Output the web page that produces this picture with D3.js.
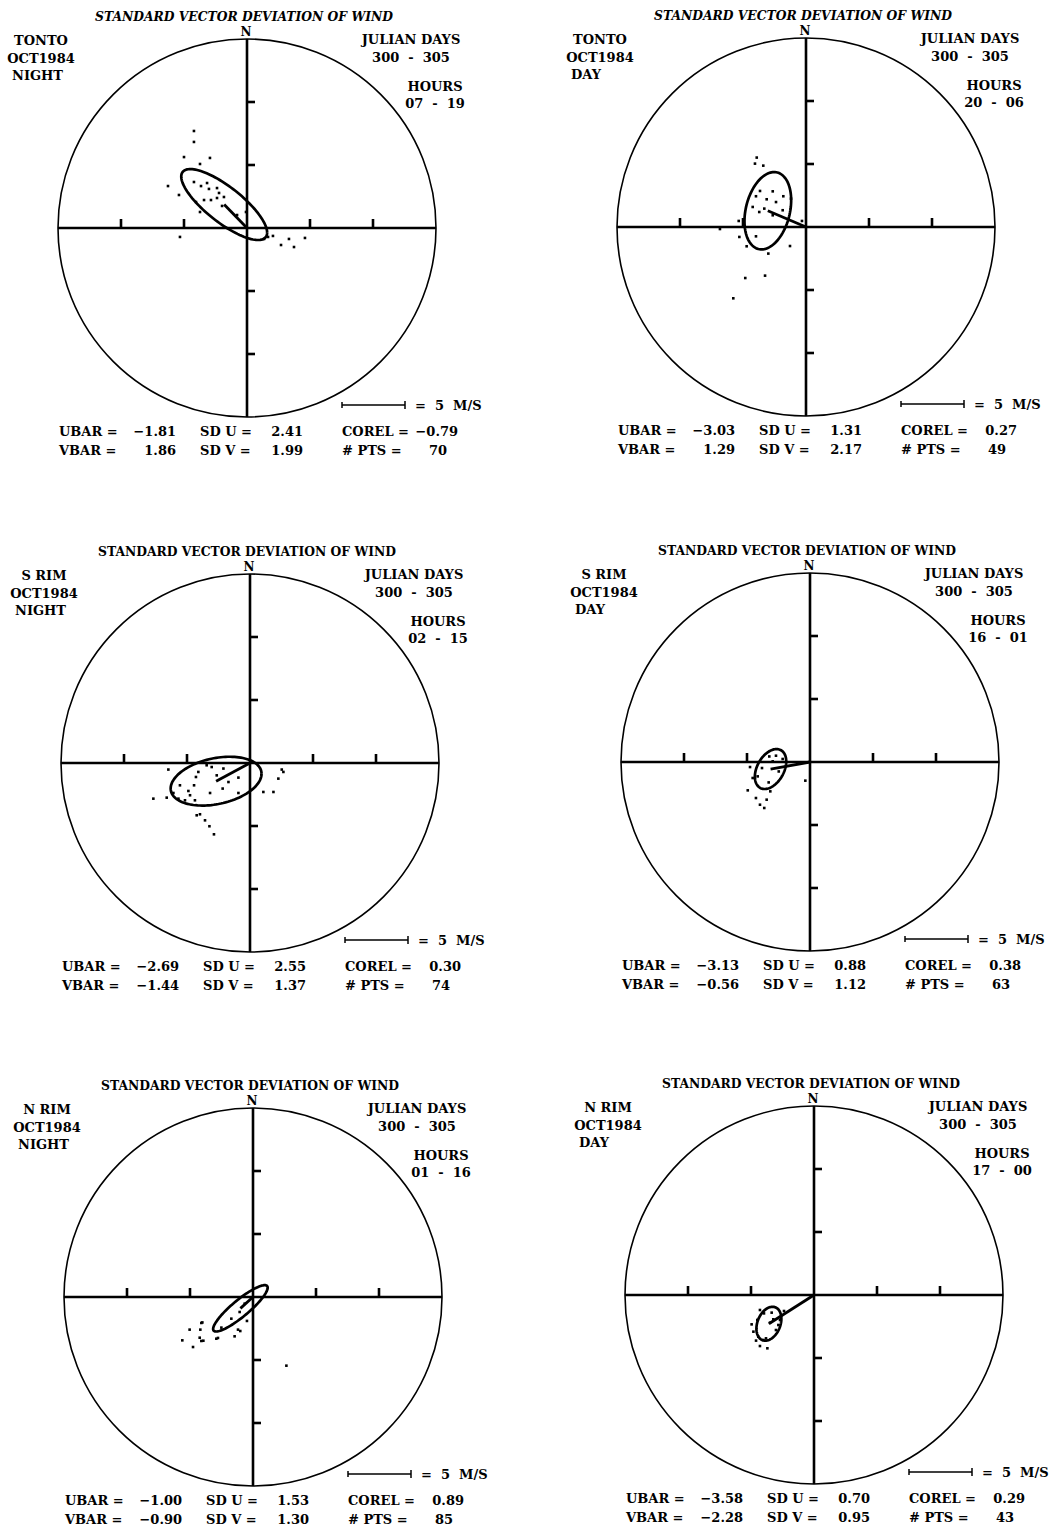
<html>
<head>
  <meta charset="utf-8">
  <style>
    body {
      margin: 0;
      background: white;
    }

    svg text {
      font-family: "DejaVu Serif", "Liberation Serif", serif;
      font-weight: bold;
      font-size: 13px;
      fill: black;
      white-space: pre;
    }

    .ring {
      fill: none;
      stroke: black;
      stroke-width: 1.6;
    }

    .axis-line,
    .tick {
      stroke: black;
      stroke-width: 2.6;
    }

    .sd-ellipse {
      fill: none;
      stroke: black;
      stroke-width: 2.7;
    }

    .mean-line {
      stroke: black;
      stroke-width: 2.8;
    }

    .obs {
      fill: black;
    }

    .scale-bar {
      stroke: black;
      stroke-width: 1.5;
    }
  </style>
</head>

<body>
  <script src="https://cdn.jsdelivr.net/npm/d3@7"></script>
  <script>
    var width = 1061;
    var height = 1528;

    // panel labels
    const stations = ["TONTO", "TONTO", "S RIM", "S RIM", "N RIM", "N RIM"];
    const months = ["OCT1984", "OCT1984", "OCT1984", "OCT1984", "OCT1984", "OCT1984"];
    const periods = ["NIGHT", "DAY", "NIGHT", "DAY", "NIGHT", "DAY"];
    const julianDays = ["300  -  305", "300  -  305", "300  -  305", "300  -  305", "300  -  305", "300  -  305"];
    const hours = ["07  -  19", "20  -  06", "02  -  15", "16  -  01", "01  -  16", "17  -  00"];

    // statistics printed under each plot (m/s)
    const ubar = [-1.81, -3.03, -2.69, -3.13, -1.00, -3.58];
    const vbar = [1.86, 1.29, -1.44, -0.56, -0.90, -2.28];
    const sdU = [2.41, 1.31, 2.55, 0.88, 1.53, 0.70];
    const sdV = [1.99, 2.17, 1.37, 1.12, 1.30, 0.95];
    const corel = [-0.79, 0.27, 0.30, 0.38, 0.89, 0.29];
    const nPts = [70, 49, 74, 63, 85, 43];

    // axis ticks (m/s) and scale bar length
    const tickValues = [-10, -5, 5, 10];
    const axisMax = 15;
    const scaleBarSpeed = 5;

    const obsTontoNight = [
      [-4.21, 7.70], [-4.21, 6.83], [-5.00, 5.63], [-2.94, 5.56], [-3.73, 5.08],
      [-6.27, 3.33], [-5.40, 2.62], [-4.21, 3.65], [-3.65, 3.33], [-3.17, 3.57],
      [-3.02, 3.10], [-2.38, 3.17], [-2.22, 2.78], [-2.38, 2.38], [-1.83, 2.46],
      [-2.86, 2.22], [-3.41, 2.22], [-4.05, 2.06], [-1.98, 1.75], [-3.73, 1.27],
      [-5.32, -0.71], [1.67, -0.71], [2.06, -0.63], [2.70, -1.35], [3.33, -0.87],
      [3.73, -1.51], [4.60, -0.79], [-0.08, 1.27], [-0.79, 1.03], [1.35, -0.87]
    ];
    const obsTontoDay = [
      [-3.91, 5.51], [-4.05, 5.03], [-3.39, 4.87], [-3.65, 2.86], [-3.97, 2.44],
      [-2.64, 2.83], [-1.80, 2.44], [-3.12, 2.20], [-2.38, 1.98], [-1.85, 1.33],
      [-4.23, 1.59], [-3.71, 1.19], [-3.31, 1.46], [-2.64, 0.93], [-1.19, 2.25],
      [-5.34, 0.48], [-6.83, -0.16], [-5.29, -0.79], [-3.97, -0.74], [-4.71, -1.53],
      [-2.99, -2.11], [-1.27, -1.51], [-0.32, 0.48], [-4.82, -4.05], [-3.25, -3.86],
      [-5.77, -5.66]
    ];
    const obsSRimNight = [
      [-6.48, -0.52], [-4.10, -0.71], [-3.44, -0.18], [-3.04, -0.32], [-2.11, -0.44],
      [-2.64, -0.98], [-4.29, -1.11], [-5.56, -1.77], [-4.44, -1.77], [-4.89, -2.22],
      [-4.76, -2.56], [-6.08, -2.38], [-5.68, -2.83], [-5.16, -2.96], [-4.37, -2.96],
      [-3.17, -2.38], [-2.17, -2.03], [-1.71, -1.51], [-0.92, -1.16], [-0.92, -2.38],
      [-7.67, -2.83], [-6.61, -2.75], [-4.23, -4.15], [-3.97, -4.07], [-3.57, -4.55],
      [-3.22, -5.02], [-2.86, -5.66], [1.06, -2.30], [1.86, -2.30], [2.25, -1.24],
      [2.52, -0.52], [2.65, -0.71]
    ];
    const obsSRimDay = [
      [-4.76, -0.40], [-3.81, -0.48], [-4.55, -1.27], [-4.15, -1.14], [-4.94, -2.25],
      [-3.28, -1.62], [-3.15, -2.33], [-4.29, -2.86], [-3.44, -2.99], [-3.97, -3.39],
      [-3.63, -3.65], [-0.37, -1.48], [-2.48, -0.75], [-3.23, 0.44], [-2.70, 0.50],
      [-2.96, 0.05], [-2.17, 0.24]
    ];
    const obsNRimNight = [
      [-4.10, -2.06], [-5.03, -2.59], [-4.18, -2.59], [-4.23, -3.23], [-4.10, -3.49],
      [-5.61, -3.44], [-4.76, -3.97], [-2.91, -3.31], [-1.46, -3.12], [-1.19, -2.59],
      [-1.01, -2.70], [-0.48, -1.90], [-2.51, -2.43], [-1.72, -1.72], [-1.06, -1.19],
      [-0.66, -0.53], [2.65, -5.45], [-4.02, -2.02], [-3.94, -3.47], [-2.78, -3.25]
    ];
    const obsNRimDay = [
      [-4.29, -1.19], [-3.97, -1.46], [-3.36, -1.40], [-2.38, -1.27], [-4.50, -1.98],
      [-3.49, -2.20], [-2.70, -1.98], [-4.95, -2.33], [-4.81, -2.91], [-4.42, -3.31],
      [-4.02, -3.57], [-3.70, -4.23], [-4.29, -4.05], [-3.02, -2.78], [-2.83, -2.38],
      [-4.60, -3.62], [-3.23, -1.93], [-3.81, -3.44]
    ];
    const observations = [obsTontoNight, obsTontoDay, obsSRimNight, obsSRimDay, obsNRimNight, obsNRimDay];

    // layout of the six plots (plot centre in px) and circle radius
    const centerX = [247, 806, 250, 810, 253, 814];
    const centerY = [228, 227, 763, 762, 1297, 1295];
    const radius = 189;
    const ellipseFactor = Math.SQRT2;

    var fmt = d3.format(".2f");

    var svg = d3
      .select("body")
      .append("svg")
      .attr("width", width)
      .attr("height", height);

    svg.append("rect").attr("width", width).attr("height", height).style("fill", "white");

    function drawPanel(i) {
      var cx = centerX[i];
      var cy = centerY[i];
      var x = d3.scaleLinear().domain([-axisMax, axisMax]).range([cx - radius, cx + radius]);
      var y = d3.scaleLinear().domain([-axisMax, axisMax]).range([cy + radius, cy - radius]);
      var g = svg.append("g").attr("class", "panel");

      // outer circle
      g.append("circle")
        .attr("class", "ring")
        .attr("cx", x(0))
        .attr("cy", y(0))
        .attr("r", x(axisMax) - x(0));

      // axes through the centre
      g.append("line").attr("class", "axis-line")
        .attr("x1", x(-axisMax)).attr("x2", x(axisMax))
        .attr("y1", y(0)).attr("y2", y(0));
      g.append("line").attr("class", "axis-line")
        .attr("x1", x(0)).attr("x2", x(0))
        .attr("y1", y(axisMax)).attr("y2", y(-axisMax));

      // ticks: upward on the E-W axis, to the right on the N-S axis
      g.selectAll(".tick-u")
        .data(tickValues)
        .join("line")
        .attr("class", "tick")
        .attr("x1", d => x(d)).attr("x2", d => x(d))
        .attr("y1", y(0)).attr("y2", y(0) - 9);
      g.selectAll(".tick-v")
        .data(tickValues)
        .join("line")
        .attr("class", "tick")
        .attr("x1", x(0)).attr("x2", x(0) + 8)
        .attr("y1", d => y(d)).attr("y2", d => y(d));

      // observations
      g.selectAll(".obs")
        .data(observations[i])
        .join("rect")
        .attr("class", "obs")
        .attr("x", d => x(d[0]) - 1.3)
        .attr("y", d => y(d[1]) - 1.3)
        .attr("width", 2.6)
        .attr("height", 2.6);

      // standard deviation ellipse around the mean vector
      var r = corel[i];
      var ellipsePts = d3.range(0, 2 * Math.PI + 0.01, Math.PI / 60).map(t => [
        x(ubar[i] + ellipseFactor * sdU[i] * Math.cos(t)),
        y(vbar[i] + ellipseFactor * sdV[i] * (r * Math.cos(t) + Math.sqrt(1 - r * r) * Math.sin(t)))
      ]);
      g.append("path")
        .attr("class", "sd-ellipse")
        .attr("d", d3.line()(ellipsePts));

      // mean vector
      g.append("line")
        .attr("class", "mean-line")
        .attr("x1", x(0)).attr("y1", y(0))
        .attr("x2", x(ubar[i])).attr("y2", y(vbar[i]));

      // titles and labels
      g.append("text")
        .attr("x", cx - 3).attr("y", cy - 207)
        .attr("text-anchor", "middle")
        .attr("textLength", 298)
        .attr("lengthAdjust", "spacingAndGlyphs")
        .style("font-style", i < 2 ? "italic" : "normal")
        .text("STANDARD VECTOR DEVIATION OF WIND");
      g.append("text")
        .attr("x", x(0) - 1).attr("y", cy - 192)
        .attr("text-anchor", "middle")
        .style("font-size", "12px")
        .text("N");

      g.append("text").attr("x", cx - 206).attr("y", cy - 183)
        .attr("text-anchor", "middle").text(stations[i]);
      g.append("text").attr("x", cx - 206).attr("y", cy - 165)
        .attr("text-anchor", "middle").text(months[i]);
      g.append("text").attr("x", cx - 235).attr("y", cy - 148)
        .attr("text-anchor", "start").text(periods[i]);

      g.append("text").attr("x", cx + 164).attr("y", cy - 184)
        .attr("text-anchor", "middle").text("JULIAN DAYS");
      g.append("text").attr("x", cx + 164).attr("y", cy - 166)
        .attr("text-anchor", "middle").text(julianDays[i]);
      g.append("text").attr("x", cx + 188).attr("y", cy - 137)
        .attr("text-anchor", "middle").text("HOURS");
      g.append("text").attr("x", cx + 188).attr("y", cy - 120)
        .attr("text-anchor", "middle").text(hours[i]);

      // scale bar
      var barX0 = cx + 95;
      var barX1 = barX0 + (x(scaleBarSpeed) - x(0));
      var barY = cy + 177;
      g.append("line").attr("class", "scale-bar")
        .attr("x1", barX0).attr("x2", barX1).attr("y1", barY).attr("y2", barY);
      g.append("line").attr("class", "scale-bar")
        .attr("x1", barX0).attr("x2", barX0).attr("y1", barY - 3).attr("y2", barY + 3);
      g.append("line").attr("class", "scale-bar")
        .attr("x1", barX1).attr("x2", barX1).attr("y1", barY - 4).attr("y2", barY + 4);
      g.append("text").attr("x", barX1 + 10).attr("y", barY + 5)
        .text("=  " + scaleBarSpeed + "  M/S");

      // statistics rows
      var rows = [
        [["UBAR =", fmt(ubar[i]), -188, -71], ["SD U =", fmt(sdU[i]), -47, 56], ["COREL =", fmt(corel[i]), 95, 211]],
        [["VBAR =", fmt(vbar[i]), -188, -71], ["SD V =", fmt(sdV[i]), -47, 56], ["# PTS =", String(nPts[i]), 95, 200]]
      ];
      rows.forEach((row, k) => {
        row.forEach(cell => {
          g.append("text").attr("x", cx + cell[2]).attr("y", cy + 208 + k * 19)
            .attr("text-anchor", "start").text(cell[0]);
          g.append("text").attr("x", cx + cell[3]).attr("y", cy + 208 + k * 19)
            .attr("text-anchor", "end").text(cell[1]);
        });
      });
    }

    d3.range(6).forEach(drawPanel);
  </script>
</body>

</html>
